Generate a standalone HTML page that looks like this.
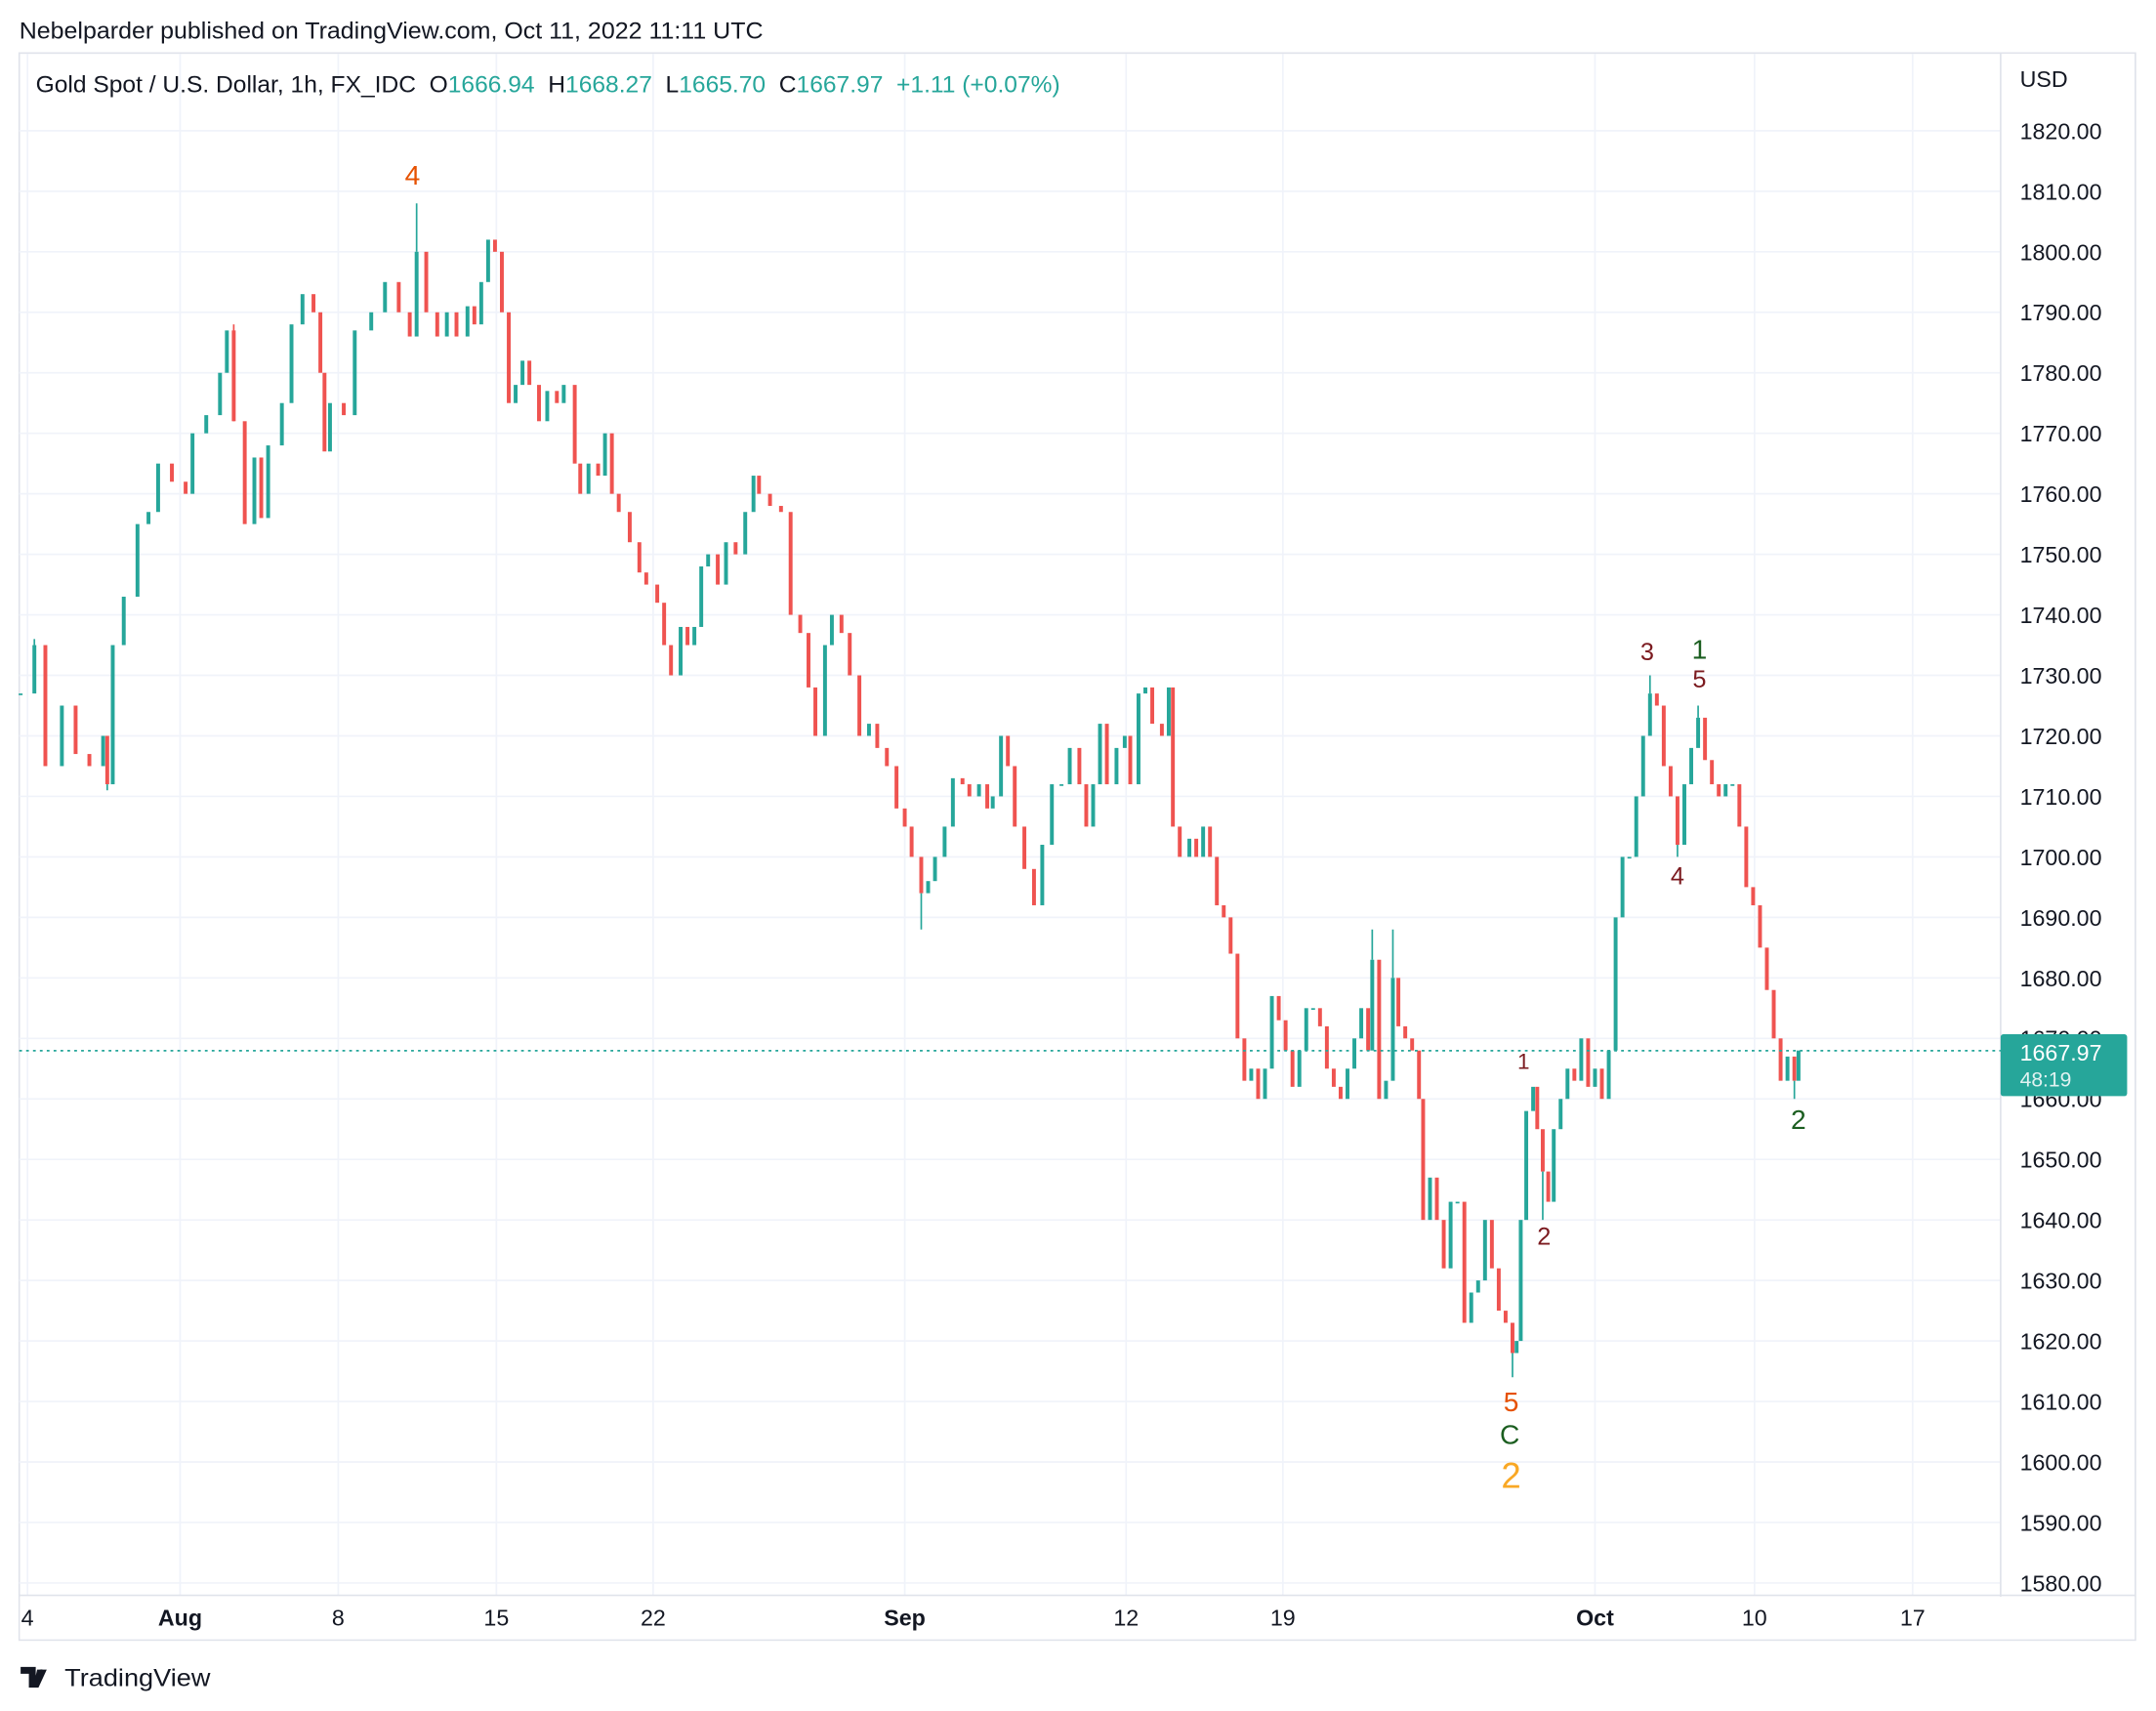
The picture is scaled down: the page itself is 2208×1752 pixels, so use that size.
<!DOCTYPE html>
<html><head><meta charset="utf-8"><title>Gold Spot / U.S. Dollar 1h</title>
<style>
html,body{margin:0;padding:0;background:#fff;}
svg{display:block;font-family:"Liberation Sans",sans-serif;}
</style></head>
<body>
<svg id="chart" width="2208" height="1752" viewBox="0 0 1568 1244" xmlns="http://www.w3.org/2000/svg">
  <rect x="0" y="0" width="1568" height="1244" fill="#ffffff"/>
  <text x="14" y="28" font-size="17" fill="#131722" textLength="541" lengthAdjust="spacingAndGlyphs">Nebelparder published on TradingView.com, Oct 11, 2022 11:11 UTC</text>
  <rect x="14" y="38.5" width="1539" height="1154" fill="none" stroke="#e0e3eb" stroke-width="1.2"/>
  <g id="grid"></g>
  <g id="candles"></g>
  <line x1="1455" y1="38.5" x2="1455" y2="1193" stroke="#e0e3eb" stroke-width="1.2"/>
  <line x1="14" y1="1160" x2="1553" y2="1160" stroke="#e0e3eb" stroke-width="1.2"/>
  <rect x="1456" y="39" width="96" height="1120" fill="#fff"/>
  <rect x="14.5" y="1161" width="1538" height="31" fill="#fff"/>
  <g id="yaxis"></g>
  <g id="xaxis"></g>
  <text x="1469" y="63" font-size="16.5" fill="#131722">USD</text>
  <text x="26" y="67" font-size="17" fill="#131722" textLength="745" lengthAdjust="spacingAndGlyphs">Gold Spot / U.S. Dollar, 1h, FX_IDC&#160; O<tspan fill="#26a69a">1666.94</tspan>&#160; H<tspan fill="#26a69a">1668.27</tspan>&#160; L<tspan fill="#26a69a">1665.70</tspan>&#160; C<tspan fill="#26a69a">1667.97</tspan>&#160; <tspan fill="#26a69a">+1.11 (+0.07%)</tspan></text>
  <line id="lastline" x1="14" x2="1455" stroke="#26a69a" stroke-width="1.2" stroke-dasharray="2,3"/>
  <g>
    <rect id="lasttag" x="1455" y="752" width="92" height="45" fill="#26a69a" rx="2"/>
    <text x="1469" y="771" font-size="16.5" fill="#fff">1667.97</text>
    <text x="1469" y="790" font-size="15" fill="#e0f2f1">48:19</text>
  </g>
  <g text-anchor="middle">
    <text x="300" y="134" font-size="20" fill="#e65100">4</text>
    <text x="1198" y="480" font-size="18" fill="#7b1a1f">3</text>
    <text x="1236" y="479" font-size="20" fill="#1b5e20">1</text>
    <text x="1236" y="500" font-size="18" fill="#7b1a1f">5</text>
    <text x="1220" y="643" font-size="18" fill="#7b1a1f">4</text>
    <text x="1108" y="777" font-size="16" fill="#7b1a1f">1</text>
    <text x="1123" y="905" font-size="18" fill="#7b1a1f">2</text>
    <text x="1099" y="1026" font-size="20" fill="#e65100">5</text>
    <text x="1098" y="1050" font-size="20" fill="#1b5e20">C</text>
    <text x="1099" y="1082" font-size="26" fill="#f9a825">2</text>
    <text x="1308" y="821" font-size="20" fill="#1b5e20">2</text>
  </g>
  <g>
    <path d="M15 1212 h11 v15 h-5 v-10 h-6 z M27 1214 h7 l-6 13 h-4 z" fill="#131722"/>
    <circle cx="30" cy="1216" r="2.2" fill="#131722"/>
    <text x="47" y="1226" font-size="18" fill="#131722" textLength="106" lengthAdjust="spacingAndGlyphs">TradingView</text>
  </g>
</svg>
<script>
// bar time in trading hours since chart start
const hours = [0,10,18,30,40,50,60,63,67,75,85,93,100,110,120,125,135,145,150,155,163,170,175,180,190,197,205,213,218,221,225,235,243,255,265,275,283,288,295,303,310,317,325,330,335,340,345,350,355,360,365,370,377,383,390,395,403,407,413,420,425,430,435,443,450,455,463,468,473,480,485,490,495,500,507,513,520,527,533,537,545,553,560,567,573,578,585,590,597,603,610,617,623,630,637,643,648,655,660,665,672,678,685,690,697,703,707,713,718,723,730,737,743,750,757,763,770,775,780,785,790,797,803,807,813,818,823,830,835,838,843,850,855,860,865,870,875,880,885,890,895,900,905,910,915,920,925,930,935,940,945,950,955,960,965,970,975,980,983,988,993,998,1002,1007,1012,1017,1020,1025,1030,1035,1040,1045,1050,1055,1060,1065,1070,1075,1080,1085,1088,1091,1095,1100,1103,1107,1111,1115,1120,1125,1130,1135,1140,1145,1150,1155,1160,1165,1170,1175,1180,1185,1190,1195,1200,1205,1210,1215,1220,1225,1230,1235,1240,1245,1250,1255,1260,1265,1270,1275,1280,1285,1290,1293];
const closes = [1727,1735,1715,1725,1717,1715,1720,1712,1735,1743,1755,1757,1765,1762,1760,1770,1773,1780,1787,1772,1755,1766,1756,1768,1775,1788,1793,1790,1780,1767,1775,1773,1787,1790,1795,1790,1786,1800,1790,1786,1790,1786,1791,1788,1795,1802,1800,1790,1775,1778,1782,1778,1772,1777,1775,1778,1765,1760,1765,1763,1770,1760,1757,1752,1747,1745,1742,1735,1730,1738,1735,1738,1748,1750,1745,1752,1750,1757,1763,1760,1758,1757,1740,1737,1728,1720,1735,1740,1737,1730,1720,1722,1718,1715,1708,1705,1700,1694,1696,1700,1705,1713,1712,1710,1712,1708,1710,1720,1715,1705,1698,1692,1702,1712,1712,1718,1712,1705,1712,1722,1712,1718,1720,1712,1727,1728,1722,1720,1728,1705,1700,1703,1700,1705,1700,1692,1690,1684,1670,1663,1665,1660,1665,1677,1673,1668,1662,1668,1675,1675,1672,1665,1662,1660,1665,1670,1675,1668,1683,1660,1663,1680,1672,1670,1668,1660,1640,1647,1640,1632,1643,1643,1623,1628,1630,1640,1632,1625,1623,1618,1620,1640,1658,1662,1655,1648,1643,1655,1660,1665,1663,1670,1662,1665,1660,1668,1690,1700,1700,1710,1720,1727,1725,1715,1710,1702,1712,1718,1723,1716,1712,1710,1712,1712,1705,1695,1692,1685,1678,1670,1663,1667,1663,1668];
const spikeHighHours = [10,155,288,983,998,1185,1220];
const spikeHighs = [1736,1788,1808,1688,1688,1730,1725];
const spikeLowHours = [63,655,1085,1107,1205,1290];
const spikeLows = [1711,1688,1614,1640,1700,1660];
const priceTicks = [1820,1810,1800,1790,1780,1770,1760,1750,1740,1730,1720,1710,1700,1690,1680,1670,1660,1650,1640,1630,1620,1610,1600,1590,1580];
const dateLabels = ["4","Aug","8","15","22","Sep","12","19","Oct","10","17"];
const dateHours = [5,116,231,346,460,643,804,918,1145,1261,1376];
const lastPrice = 1667.97;

const NS = "http://www.w3.org/2000/svg";
const X0 = 15, X1 = 1308, HMAX = 1293;
function xScale(h){ return X0 + h*(X1-X0)/HMAX; }
function yScale(p){ return 95 + (1820-p)*4.4; }
function mk(tag, attrs, parent){
  const el = document.createElementNS(NS, tag);
  for (const k in attrs) el.setAttribute(k, attrs[k]);
  parent.appendChild(el); return el;
}
const grid = document.getElementById('grid');
const yaxis = document.getElementById('yaxis');
const xaxis = document.getElementById('xaxis');
priceTicks.forEach(p=>{
  const y = yScale(p);
  if (y < 40 || y > 1158) return;
  const gl = mk('line',{x1:14,x2:1455,y1:y,y2:y,stroke:'#f0f3fa','stroke-width':1.2},grid);
  
  
  const t = mk('text',{x:1469,y:y+6,'font-size':16.5,fill:'#131722'},yaxis);
  
  
  t.textContent = p.toFixed(2);
});
dateLabels.forEach((lab,i)=>{
  const x = xScale(dateHours[i]);
  const gl = mk('line',{x1:x,x2:x,y1:39,y2:1160,stroke:'#f0f3fa','stroke-width':1.2},grid);
  
  
  const bold = isNaN(Number(lab));
  const t = mk('text',{x:x,y:1182,'font-size':16.5,fill:'#131722','text-anchor':'middle','font-weight':bold?'bold':'normal'},xaxis);
  
  
  t.textContent = lab;
});
const cg = document.getElementById('candles');
const n = Math.min(hours.length, closes.length);
for (let i=0;i<n;i++){
  const o = i>0 ? closes[i-1] : closes[i];
  const c = closes[i];
  const up = c >= o;
  const col = up ? '#26a69a' : '#ef5350';
  const x = xScale(hours[i]);
  const y1 = yScale(Math.max(o,c)), y2 = yScale(Math.min(o,c));
  const r = mk('rect',{x:x-1.4,y:y1,width:2.8,height:Math.max(1.2,y2-y1),fill:col},cg);
  
  
}
function nearestClose(h){
  let best=0; for(let i=0;i<n;i++){ if(Math.abs(hours[i]-h)<Math.abs(hours[best]-h)) best=i; }
  return best;
}
spikeHighHours.forEach((h,i)=>{
  const b = nearestClose(h);
  const x = xScale(h);
  const w = mk('line',{x1:x,x2:x,y1:yScale(spikeHighs[i]),y2:yScale(closes[b]),stroke:closes[b]>=(b>0?closes[b-1]:closes[b])?'#26a69a':'#ef5350','stroke-width':1.2},cg);
  
  
});
spikeLowHours.forEach((h,i)=>{
  const b = nearestClose(h);
  const x = xScale(h);
  const w = mk('line',{x1:x,x2:x,y1:yScale(closes[b]),y2:yScale(spikeLows[i]),stroke:'#26a69a','stroke-width':1.2},cg);
  
  
});
const ll = document.getElementById('lastline');
ll.setAttribute('y1', yScale(lastPrice)); ll.setAttribute('y2', yScale(lastPrice));
</script>
</body></html>
